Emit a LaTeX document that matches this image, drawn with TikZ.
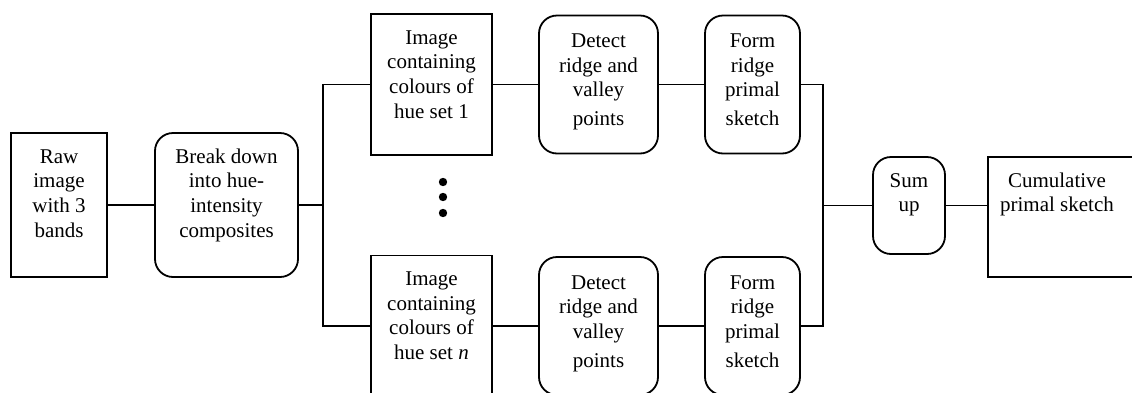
\documentclass[tikz,border=0pt]{standalone}
\usepackage{fontspec}
\setmainfont{Liberation Serif}
\usetikzlibrary{positioning}

% text placed at the top of a box of given size
\newcommand{\blktext}[4][6.5pt]{\parbox[c][#3][t]{#2}{\centering\vspace*{#1}\strut #4}}

\tikzset{
  blk/.style={draw, line width=0.9pt, inner sep=0pt,
    font=\fontsize{10.5pt}{12.3pt}\selectfont},
  rblk/.style={blk, rounded corners=9pt},
  wire/.style={line width=0.9pt}
}

\begin{document}
\begin{tikzpicture}[x=0.5pt,y=-0.5pt]
\clip (0,0) rectangle (1132,392);
\node[blk] (raw) at (59,205) {\blktext{48pt}{72pt}{Raw\\image\\with 3\\bands}};
\node[rblk] (brk) at (226.5,205) {\blktext{71.5pt}{72pt}{Break down\\into hue-\\intensity\\composites}};
\coordinate (splitL) at (323,205);
% upper branch
\node[blk] (img1) at (431.5,84.5) {\blktext{60.5pt}{70.5pt}{Image\\containing\\colours of\\hue set 1}};
\node[rblk] (det1) at (598.5,84.5) {\blktext[7.5pt]{59.5pt}{69pt}{Detect\\ridge and\\valley\\[2pt]points}};
\node[rblk] (frm1) at (752.5,84.5) {\blktext[7.5pt]{47.5pt}{69pt}{Form\\ridge\\primal\\[2pt]sketch}};
% lower branch
\node[blk] (imgn) at (431.5,326) {\blktext{60.5pt}{70.5pt}{Image\\containing\\colours of\\hue set \textit{n}}};
\node[rblk] (detn) at (598.5,326) {\blktext[7.5pt]{59.5pt}{69pt}{Detect\\ridge and\\valley\\[2pt]points}};
\node[rblk] (frmn) at (752.5,326) {\blktext[7.5pt]{47.5pt}{69pt}{Form\\ridge\\primal\\[2pt]sketch}};
\foreach \y in {182,197,213} \fill (443,\y) circle (2.1pt);
\coordinate (joinR) at (823,205.5);
\node[rblk] (sum) at (909,205.5) {\blktext{36pt}{48.5pt}{Sum\\up}};
\node[blk] (cum) at (1062,217) {\blktext{74pt}{60pt}{Cumulative\hspace*{5pt}\mbox{}\\primal sketch\hspace*{5pt}\mbox{}}};
% connections
\draw[wire] (raw) -- (brk);
\draw[wire] (brk) -- (splitL);
\draw[wire] (img1.west) -| (splitL) |- (imgn.west);
\draw[wire] (img1) -- (det1);
\draw[wire] (det1) -- (frm1);
\draw[wire] (imgn) -- (detn);
\draw[wire] (detn) -- (frmn);
\draw[wire] (frm1.east) -| (joinR) |- (frmn.east);
\draw[wire] (joinR) -- (sum);
\draw[wire] (sum.east) -- (sum.east -| cum.west);
\end{tikzpicture}
\end{document}
